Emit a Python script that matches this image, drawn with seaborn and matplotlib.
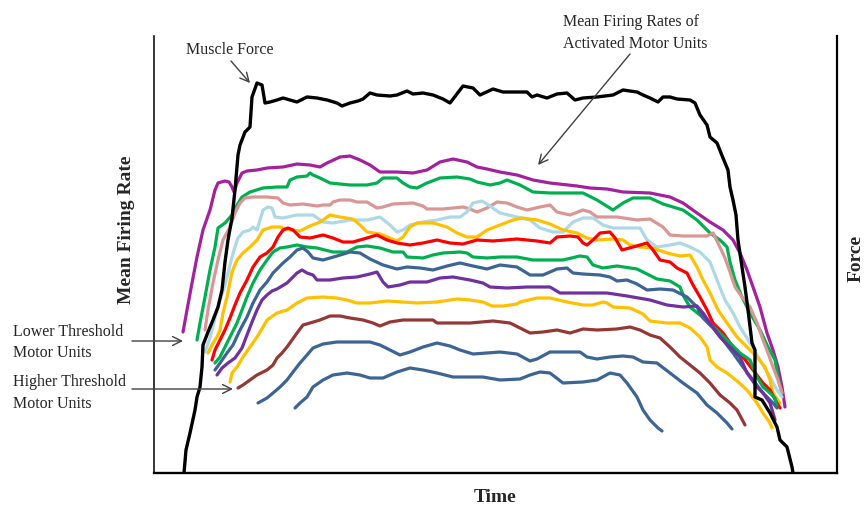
import matplotlib
matplotlib.use("Agg")
import matplotlib.pyplot as plt
import seaborn as sns
import pandas as pd

# ---------------------------------------------------------------
# Readings: (x, y) in picture pixels
# (converted below to time / rate units through the axes frame)
# ---------------------------------------------------------------
FRAME_LEFT, FRAME_RIGHT, FRAME_TOP, FRAME_BOTTOM = 154, 837, 36, 473

muscle_force = [(184,473),(186,450),(190,433),(195,410),(197,397),(200,387),(202,367),(203,345),(208,332),
    (213,320),(218,307),(222,290),(225,262),(228,240),(232,218),(235,190),(238,155),(240,145),(245,132),
    (250,127),(252,97),(257,83),(262,85),(265,103),(270,102),(277,100),(283,98),(297,102),(307,97),(317,98),
    (327,100),(337,103),(342,106),(350,103),(358,101),(363,99),(370,93),(377,95),(390,96),(397,95),(407,91),
    (413,94),(423,93),(433,95),(443,99),(450,103),(463,86),(473,88),(480,95),(493,89),(503,92),(527,92),
    (532,97),(537,95),(547,98),(557,94),(567,93),(575,100),(583,98),(597,97),(613,95),(623,90),(637,92),
    (643,95),(650,98),(658,102),(663,97),(670,97),(677,99),(690,100),(695,103),(700,115),(707,125),(710,137),
    (717,143),(723,158),(728,170),(730,187),(733,200),(736,215),(738,240),(742,267),(745,287),(748,310),
    (752,343),(755,350),(755,397),(762,400),(770,413),(777,427),(780,440),(787,447),(792,467),(793,473)]

mu_magenta = [(183,332),(187,310),(192,283),(197,257),(203,230),(210,210),(215,190),(218,183),(225,181),
    (229,182),(232,187),(234,192),(237,183),(242,173),(247,171),(257,170),(267,168),(283,167),(297,164),
    (310,165),(320,167),(327,163),(340,157),(350,156),(360,160),(370,165),(380,172),(397,172),(413,173),
    (427,170),(440,162),(453,159),(467,162),(477,167),(487,169),(500,172),(517,175),(533,180),(550,183),
    (577,186),(590,188),(607,189),(623,192),(650,193),(670,197),(683,203),(697,213),(710,222),(723,230),
    (733,240),(740,253),(747,270),(753,287),(760,307),(767,333),(773,350),(778,367),(782,387),(785,407)]

mu_green_a = [(197,340),(200,323),(205,297),(210,270),(215,247),(218,228),(225,223),(232,215),(237,205),
    (242,197),(250,192),(263,188),(277,187),(287,187),(290,180),(297,177),(307,176),(310,173),(313,175),
    (320,178),(330,183),(350,185),(367,185),(377,183),(383,178),(397,178),(403,183),(410,187),(417,188),
    (427,183),(440,178),(457,177),(470,179),(477,182),(490,185),(500,183),(507,180),(520,185),(533,192),
    (550,193),(570,193),(583,193),(597,200),(613,210),(623,203),(633,198),(650,198),(663,204),(683,210),
    (697,220),(710,233),(720,240),(727,247),(730,262),(735,280),(742,297),(750,313),(760,330),(768,347),
    (775,360),(778,377),(782,393)]

mu_pink = [(205,330),(208,310),(213,283),(218,260),(223,240),(230,227),(235,213),(240,203),(245,198),
    (253,197),(267,197),(278,198),(283,203),(290,205),(303,204),(317,206),(323,205),(330,205),(333,202),
    (340,200),(350,200),(357,202),(367,202),(372,205),(377,208),(383,207),(393,204),(413,203),(423,206),
    (427,209),(443,209),(453,208),(463,207),(470,209),(477,212),(487,208),(497,202),(507,203),(517,207),
    (527,210),(540,207),(550,205),(557,212),(570,215),(583,210),(590,212),(597,217),(617,217),(637,220),
    (650,219),(663,227),(670,235),(683,236),(707,236),(713,233),(718,243),(725,258),(730,272),(735,287),
    (742,297),(750,307),(757,323),(763,340),(768,353),(773,367),(778,380),(782,393)]

mu_lightblue = [(205,352),(210,338),(215,318),(220,300),(225,285),(228,273),(232,257),(235,247),(238,238),
    (243,232),(250,230),(253,227),(257,230),(260,220),(263,210),(268,207),(272,208),(275,217),(283,218),
    (297,215),(313,215),(323,222),(333,223),(350,220),(367,220),(380,217),(390,225),(397,232),(403,230),
    (410,225),(423,222),(437,220),(450,217),(460,217),(467,212),(473,203),(482,201),(490,206),(500,213),
    (517,217),(530,220),(540,228),(553,232),(563,232),(573,222),(583,218),(593,218),(603,225),(613,228),
    (640,228),(647,240),(657,247),(670,245),(680,243),(690,247),(700,252),(710,262),(717,280),(725,300),
    (733,313),(740,327),(750,343),(760,360),(770,377),(777,390),(782,397)]

mu_gold_a = [(208,353),(213,343),(217,337),(220,330),(223,313),(227,297),(232,272),(237,260),(243,253),
    (250,247),(257,240),(263,230),(272,227),(280,227),(290,230),(300,231),(310,226),(320,222),(330,215),
    (340,217),(353,219),(360,225),(367,232),(380,234),(390,238),(397,241),(403,237),(410,227),(417,223),
    (433,223),(447,227),(457,233),(467,237),(477,237),(487,230),(500,225),(513,220),(522,218),(537,220),
    (550,224),(563,230),(577,233),(587,238),(597,240),(613,239),(623,240),(630,245),(640,247),(653,248),
    (667,253),(680,256),(690,255),(697,267),(703,280),(710,293),(718,310),(727,323),(737,337),(747,347),
    (757,357),(765,367),(770,380),(773,393),(780,403)]

mu_red = [(212,360),(215,350),(220,340),(225,330),(230,318),(235,305),(240,293),(247,280),(253,267),
    (260,257),(267,253),(273,247),(278,237),(283,230),(288,228),(293,230),(300,237),(310,238),(323,235),
    (333,238),(343,242),(353,242),(367,238),(377,235),(387,240),(397,243),(410,245),(423,243),(437,240),
    (450,243),(463,244),(477,240),(493,241),(517,239),(537,241),(550,243),(557,237),(570,236),(578,237),
    (583,243),(587,245),(593,240),(600,233),(610,232),(615,238),(622,250),(633,247),(647,243),(653,250),
    (660,260),(670,262),(677,268),(687,273),(693,285),(700,297),(707,310),(713,323),(723,333),(733,347),
    (743,357),(753,370),(763,383),(770,390),(777,403),(780,408)]

mu_green_b = [(215,363),(220,357),(225,347),(230,337),(237,323),(242,310),(247,297),(253,283),(260,270),
    (267,260),(273,252),(280,248),(287,247),(297,245),(307,247),(317,248),(333,252),(347,252),(357,247),
    (367,246),(380,248),(393,252),(403,252),(407,257),(423,258),(433,255),(443,253),(460,252),(467,253),
    (473,257),(487,258),(500,257),(517,257),(533,260),(550,260),(563,260),(580,256),(587,257),(593,265),
    (603,268),(617,266),(637,269),(647,274),(657,279),(670,281),(680,287),(684,297),(690,307),(700,315),
    (710,323),(720,333),(730,343),(740,353),(750,360),(757,377),(763,387),(770,393),(775,398),(777,407)]

mu_steel_a = [(215,370),(220,363),(227,353),(233,345),(240,330),(247,317),(253,303),(260,290),(267,282),
    (273,273),(283,263),(290,257),(297,250),(303,248),(308,252),(313,258),(323,260),(337,256),(350,252),
    (360,253),(370,259),(383,265),(397,269),(407,267),(420,268),(433,270),(447,266),(460,263),(473,266),
    (487,269),(500,265),(517,267),(530,275),(543,275),(557,269),(567,268),(573,273),(583,274),(600,275),
    (610,277),(617,281),(627,280),(637,284),(647,290),(660,289),(673,290),(687,297),(697,307),(703,318),
    (713,328),(723,340),(733,353),(743,367),(753,380),(763,393),(773,403),(777,408)]

mu_purple = [(217,375),(222,368),(228,363),(235,358),(242,348),(247,335),(252,322),(257,310),(262,300),
    (267,295),(272,291),(277,289),(287,283),(297,273),(302,270),(307,273),(313,275),(317,280),(330,280),
    (343,278),(357,277),(370,274),(377,272),(383,282),(388,287),(400,285),(410,282),(427,282),(440,278),
    (453,277),(470,280),(483,283),(490,287),(507,288),(527,287),(550,287),(560,293),(583,293),(607,293),
    (627,296),(650,300),(667,305),(683,307),(697,306),(703,313),(710,323),(720,337),(730,347),(740,357),
    (747,373),(757,387),(763,393),(770,403),(773,413),(775,420)]

mu_gold_b = [(230,382),(232,373),(237,367),(243,357),(250,347),(257,337),(263,327),(267,320),(277,313),
    (287,310),(297,303),(307,298),(323,297),(337,298),(347,300),(357,303),(370,303),(387,301),(403,302),
    (417,303),(437,302),(457,299),(470,300),(483,302),(492,306),(503,306),(517,304),(520,302),(537,298),
    (550,298),(567,302),(583,305),(593,305),(603,302),(607,303),(613,307),(630,308),(643,314),(650,321),
    (667,323),(680,323),(690,328),(700,337),(707,347),(710,360),(717,367),(727,373),(737,381),(747,390),
    (757,403),(763,413),(770,423),(772,428)]

mu_brown = [(238,388),(243,385),(250,380),(257,375),(267,370),(273,365),(277,358),(282,353),(287,347),
    (292,340),(297,333),(303,325),(310,323),(320,320),(330,316),(340,316),(350,318),(363,320),(373,323),
    (380,326),(390,322),(403,320),(423,320),(433,320),(437,323),(453,323),(470,323),(493,321),(510,323),
    (520,328),(530,333),(543,332),(557,330),(570,333),(583,329),(597,330),(617,329),(630,327),(640,330),
    (650,335),(660,338),(670,347),(680,357),(690,365),(700,373),(710,383),(720,395),(730,403),(737,410),
    (745,425)]

mu_steel_b = [(258,403),(267,398),(273,393),(280,387),(287,380),(293,372),(300,363),(307,355),(313,348),
    (323,344),(337,342),(350,342),(370,342),(380,345),(390,350),(400,355),(410,352),(423,347),(437,343),
    (450,346),(460,350),(473,354),(487,353),(500,352),(517,354),(530,361),(537,359),(550,352),(563,352),
    (580,352),(587,357),(597,359),(610,357),(623,356),(633,357),(643,362),(657,363),(670,373),(683,383),
    (697,393),(707,405),(717,413),(727,423),(732,429)]

mu_steel_c = [(295,408),(300,403),(307,397),(313,387),(323,380),(333,375),(347,373),(360,375),(370,378),
    (383,378),(397,372),(410,368),(423,370),(437,373),(453,377),(470,377),(483,377),(500,380),(520,379),
    (530,375),(540,372),(550,373),(563,383),(583,382),(597,380),(610,373),(620,375),(627,383),(637,397),
    (643,410),(650,420),(658,428),(662,431)]

unit_names = ["MU1", "MU2", "MU3", "MU4", "MU5", "MU6", "MU7", "MU8", "MU9", "MU10", "MU11", "MU12", "MU13"]
unit_series = [mu_magenta, mu_green_a, mu_pink, mu_lightblue, mu_gold_a, mu_red, mu_green_b,
               mu_steel_a, mu_purple, mu_gold_b, mu_brown, mu_steel_b, mu_steel_c]
unit_colors = ["#A3219F", "#00B050", "#D99694", "#ADD8E6", "#FFC000", "#FF0000", "#00B050",
               "#3C6494", "#7030A0", "#FFC000", "#953735", "#3C6494", "#3C6494"]


def to_time_rate(points):
    t = [p[0] - FRAME_LEFT for p in points]
    r = [FRAME_BOTTOM - p[1] for p in points]
    return t, r


rows = []
for name, pts in zip(unit_names, unit_series):
    t, r = to_time_rate(pts)
    for ti, ri in zip(t, r):
        rows.append({"unit": name, "time": ti, "rate": ri})
df = pd.DataFrame(rows)
ft, fr = to_time_rate(muscle_force)
force_df = pd.DataFrame({"time": ft, "rate": fr})

sns.set_style("white")
plt.rcParams['font.family'] = ['Liberation Serif', 'DejaVu Serif']

W, H = 866, 511
fig = plt.figure(figsize=(W / 100, H / 100), dpi=100)
ax = fig.add_axes([FRAME_LEFT / W, (H - FRAME_BOTTOM) / H,
                   (FRAME_RIGHT - FRAME_LEFT) / W, (FRAME_BOTTOM - FRAME_TOP) / H])

sns.lineplot(data=df, x="time", y="rate", hue="unit", hue_order=unit_names,
             palette=dict(zip(unit_names, unit_colors)), estimator=None, sort=False,
             legend=False, linewidth=2.3, solid_capstyle="round", solid_joinstyle="round", ax=ax)
sns.lineplot(data=force_df, x="time", y="rate", color="black", estimator=None, sort=False,
             linewidth=2.4, solid_capstyle="round", solid_joinstyle="round", ax=ax)

ax.set_xlim(0, FRAME_RIGHT - FRAME_LEFT)
ax.set_ylim(0, FRAME_BOTTOM - FRAME_TOP)
ax.set_xticks([])
ax.set_yticks([])
ax.spines["top"].set_visible(False)
for side, lw in (("left", 1.1), ("right", 1.6), ("bottom", 1.7)):
    ax.spines[side].set_visible(True)
    ax.spines[side].set_color("black")
    ax.spines[side].set_linewidth(lw)

ax.set_ylabel("Mean Firing Rate", fontsize=14, fontweight="bold")
ax.yaxis.set_label_coords((135 - FRAME_LEFT) / (FRAME_RIGHT - FRAME_LEFT),
                          (FRAME_BOTTOM - 230) / (FRAME_BOTTOM - FRAME_TOP))
ax.set_xlabel("Time", fontsize=14, fontweight="bold")
ax.xaxis.set_label_coords((495 - FRAME_LEFT) / (FRAME_RIGHT - FRAME_LEFT),
                          (FRAME_BOTTOM - 489) / (FRAME_BOTTOM - FRAME_TOP))


def fp(x, y):
    return (x / W, 1 - y / H)


fig.text(*fp(865, 258), "Force", rotation=90, ha="right", va="center", fontsize=14, fontweight="bold")

arrow = dict(arrowstyle="->", color="#404040", lw=1.0, shrinkA=0, shrinkB=0, mutation_scale=16)
note_fs = 11.5

fig.text(*fp(230, 50), "Muscle Force", ha="center", va="center", fontsize=note_fs)
ax.annotate("", xy=fp(250, 83), xytext=fp(231, 61), xycoords="figure fraction",
            textcoords="figure fraction", arrowprops=arrow)

fig.text(*fp(563, 22), "Mean Firing Rates of", ha="left", va="center", fontsize=note_fs)
fig.text(*fp(563, 44), "Activated Motor Units", ha="left", va="center", fontsize=note_fs)
ax.annotate("", xy=fp(538, 165), xytext=fp(630, 54), xycoords="figure fraction",
            textcoords="figure fraction", arrowprops=arrow)

fig.text(*fp(13, 332), "Lower Threshold", ha="left", va="center", fontsize=note_fs)
fig.text(*fp(13, 353), "Motor Units", ha="left", va="center", fontsize=note_fs)
ax.annotate("", xy=fp(183, 341), xytext=fp(132, 341), xycoords="figure fraction",
            textcoords="figure fraction", arrowprops=arrow)

fig.text(*fp(13, 382), "Higher Threshold", ha="left", va="center", fontsize=note_fs)
fig.text(*fp(13, 404), "Motor Units", ha="left", va="center", fontsize=note_fs)
ax.annotate("", xy=fp(233, 389), xytext=fp(132, 389), xycoords="figure fraction",
            textcoords="figure fraction", arrowprops=arrow)

fig.savefig("out.png", dpi=100)
